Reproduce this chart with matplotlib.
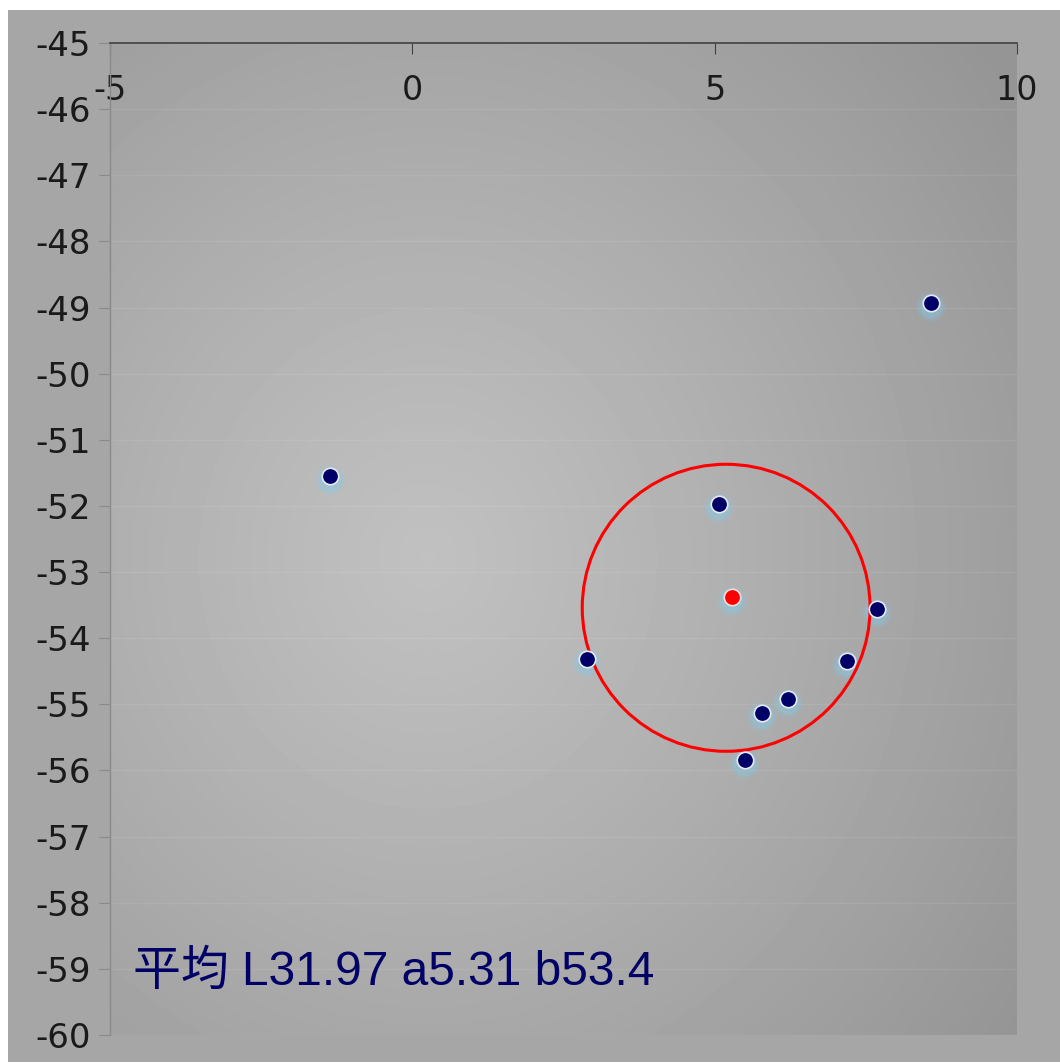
import numpy as np
import matplotlib
matplotlib.use("Agg")
import matplotlib.pyplot as plt
from matplotlib.patches import Ellipse, Rectangle

plt.rcParams["axes.unicode_minus"] = False

# measured points (a*, b*)
a_vals = [8.58, -1.36, 5.07, 7.68, 2.89, 7.19, 6.21, 5.78, 5.50]
b_vals = [-48.93, -51.55, -51.97, -53.56, -54.31, -54.35, -54.92, -55.13, -55.84]
mean_a = 5.29
mean_b = -53.38
circle_center = (5.19, -53.54)
circle_rx = 2.38
circle_ry = 2.17
x_ticks = [-5, 0, 5, 10]
y_ticks = list(range(-60, -44))
label = "平均 L31.97 a5.31 b53.4"

fig = plt.figure(figsize=(10.6, 10.64), dpi=100)
fig.patch.set_facecolor("white")
fig.patches.append(Rectangle((8 / 1060, 0.002), 1 - 8 / 1060, 1 - 10 / 1064 - 0.002,
                             transform=fig.transFigure, facecolor="#a6a6a6",
                             edgecolor="none", zorder=-10))

ax = fig.add_axes([110 / 1060, 1 - 1035 / 1064, 907 / 1060, 992 / 1064])
ax.set_xlim(-5, 10)
ax.set_ylim(-60, -45)

# radial gradient background of plot area
gx, gy = np.meshgrid(np.linspace(0, 1, 300), np.linspace(0, 1, 300))
r = np.sqrt((gx - 0.35) ** 2 + (gy - 0.52) ** 2)
shade = 0.755 - 0.17 * np.clip(r / 0.8, 0, 1) ** 1.1
ax.imshow(shade, extent=(-5, 10, -60, -45), origin="upper", cmap="gray",
          vmin=0, vmax=1, aspect="auto", zorder=0, interpolation="bicubic")

ax.set_facecolor("none")
for yv in y_ticks:
    ax.axhline(yv, color="white", alpha=0.08, lw=1, zorder=1)

# glow under markers
for s, al in [(500, 0.1), (360, 0.16), (250, 0.25)]:
    ax.scatter(a_vals, np.array(b_vals) - 0.06, s=s, color="#7fcff0", alpha=al,
               edgecolors="none", zorder=2)
    ax.scatter([mean_a], [mean_b - 0.06], s=s, color="#7fcff0", alpha=al,
               edgecolors="none", zorder=2)
ax.scatter(a_vals, b_vals, s=140, color="#000066", edgecolors="#e8e8f0",
           linewidths=1.2, zorder=4)
ax.scatter([mean_a], [mean_b], s=140, color="#ff0000", edgecolors="#f0e0e0",
           linewidths=1.2, zorder=4)

ax.add_patch(Ellipse(circle_center, 2 * circle_rx, 2 * circle_ry, fill=False,
                     edgecolor="#ff0000", lw=2.2, zorder=3))

ax.text(-4.62, -59.05, label, fontsize=34.5, color="#000066",
        family=["Liberation Sans", "Noto Sans CJK JP"], va="center", ha="left", zorder=5)

ax.set_xticks(x_ticks)
ax.set_yticks(y_ticks)
ax.tick_params(axis="x", top=True, bottom=False, labeltop=True, labelbottom=False,
               direction="in", length=8, color="#404040", pad=-46, labelsize=24,
               labelcolor="#1a1a1a")
ax.tick_params(axis="y", direction="out", length=8, color="#8a8a8a", pad=6,
               labelsize=24.5, labelcolor="#1a1a1a")
for side in ["right", "bottom"]:
    ax.spines[side].set_visible(False)
ax.spines["top"].set_color("#404040")
ax.spines["top"].set_linewidth(1.2)
ax.spines["left"].set_color("#8a8a8a")
ax.spines["left"].set_linewidth(1.0)

fig.savefig("out.png", dpi=100)
